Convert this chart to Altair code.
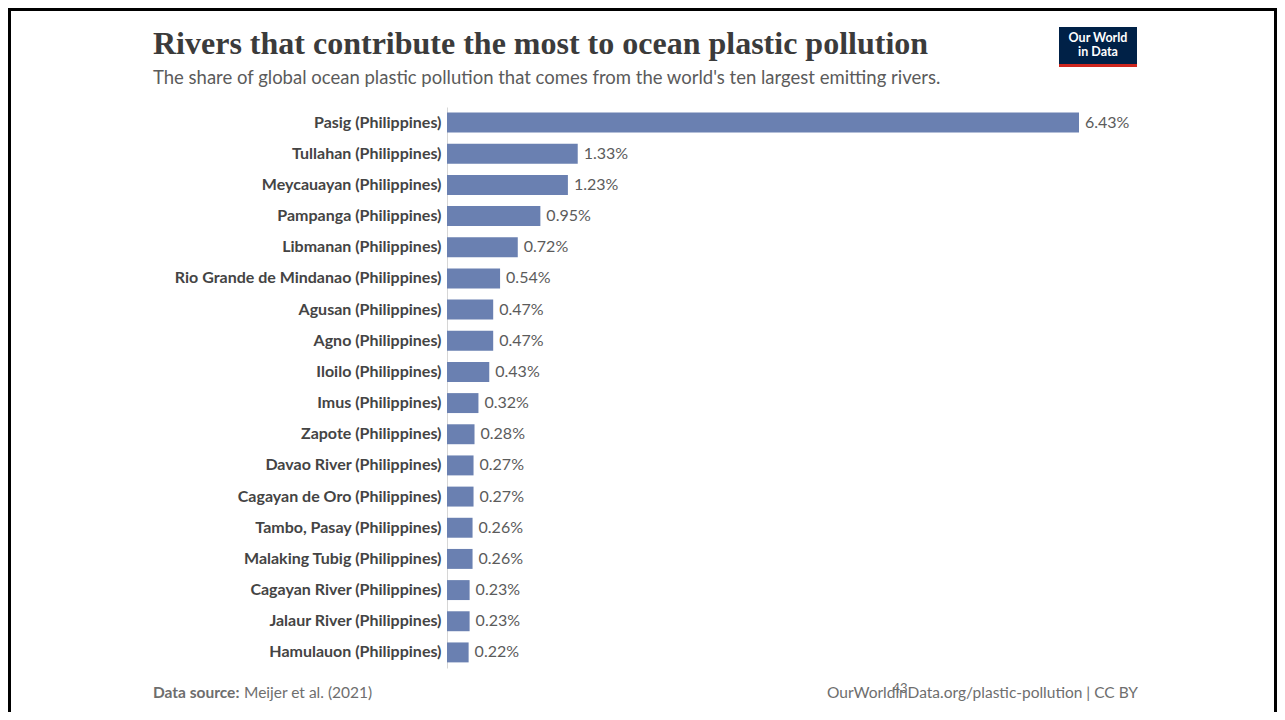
import altair as alt
import pandas as pd

rivers = [
    "Pasig (Philippines)", "Tullahan (Philippines)", "Meycauayan (Philippines)",
    "Pampanga (Philippines)", "Libmanan (Philippines)",
    "Rio Grande de Mindanao (Philippines)", "Agusan (Philippines)",
    "Agno (Philippines)", "Iloilo (Philippines)", "Imus (Philippines)",
    "Zapote (Philippines)", "Davao River (Philippines)",
    "Cagayan de Oro (Philippines)", "Tambo, Pasay (Philippines)",
    "Malaking Tubig (Philippines)", "Cagayan River (Philippines)",
    "Jalaur River (Philippines)", "Hamulauon (Philippines)",
]
shares = [6.43, 1.33, 1.23, 0.95, 0.72, 0.54, 0.47, 0.47, 0.43, 0.32,
          0.28, 0.27, 0.27, 0.26, 0.26, 0.23, 0.23, 0.22]

title_text = "Rivers that contribute the most to ocean plastic pollution"
subtitle_text = "The share of global ocean plastic pollution that comes from the world's ten largest emitting rivers."
source_label = "Data source:"
source_text = "Meijer et al. (2021)"
credit_text = "OurWorldinData.org/plastic-pollution | CC BY"
page_number = "43"

df = pd.DataFrame({"river": rivers, "share": shares,
                   "label": [f"{v:.2f}%" for v in shares]})

W, H = 693, 561
PAD_L, PAD_T = 439, 99
TOTAL_W, TOTAL_H = 1269, 704

x_scale = alt.Scale(domain=[0, 6.43 * W / 632], nice=False, zero=True)
y_enc = alt.Y("river:N", sort=None,
              scale=alt.Scale(paddingInner=0.36, paddingOuter=0.18),
              axis=alt.Axis(title=None, ticks=False, labelFont="Lato",
                            labelFontSize=16, labelFontWeight="bold",
                            labelColor="#444444", labelPadding=6,
                            labelLimit=420,
                            domainColor="#d6d6d6", domainWidth=1, grid=False))

base = alt.Chart(df)
bars = base.mark_bar(color="#6a80b1").encode(
    x=alt.X("share:Q", scale=x_scale, axis=None),
    y=y_enc,
)
values = base.mark_text(align="left", baseline="middle", dx=6, font="Lato",
                        fontSize=16, color="#5b5b5b").encode(
    x=alt.X("share:Q", scale=x_scale),
    y=alt.Y("river:N", sort=None),
    text="label:N",
)


def txt(t, x, y, **kw):
    return alt.Chart(pd.DataFrame({"t": [t]})).mark_text(**kw).encode(
        x=alt.value(x), y=alt.value(y), text="t:N")


title = txt(title_text, -294, -53, align="left", baseline="alphabetic",
            font="Liberation Serif", fontSize=32, fontWeight="bold",
            color="#3b3b3b")
subtitle = txt(subtitle_text, -294, -23, align="left", baseline="alphabetic",
               font="Lato", fontSize=18.5, color="#5b5b5b")
src1 = txt(source_label, -294, 591, align="left", baseline="alphabetic",
           font="Lato", fontSize=15.5, fontWeight="bold", color="#6e6e6e")
src2 = txt(source_text, -203, 591, align="left", baseline="alphabetic",
           font="Lato", fontSize=15.5, color="#6e6e6e")
credit = txt(credit_text, 691, 591, align="right", baseline="alphabetic",
             font="Lato", fontSize=15.5, color="#6e6e6e")
pnum = txt(page_number, 453, 586, align="center", baseline="alphabetic",
           font="Lato", fontSize=13, color="#6e6e6e")

logo_df = pd.DataFrame({"a": [0]})
logo_box = alt.Chart(logo_df).mark_rect(color="#002147").encode(
    x=alt.value(612), x2=alt.value(690), y=alt.value(-80), y2=alt.value(-40))
logo_red = alt.Chart(logo_df).mark_rect(color="#ce261e").encode(
    x=alt.value(612), x2=alt.value(690), y=alt.value(-43), y2=alt.value(-40))
logo_t1 = txt("Our World", 651, -65, align="center", baseline="alphabetic",
              font="Lato", fontSize=12.5, fontWeight="bold", color="white")
logo_t2 = txt("in Data", 651, -51, align="center", baseline="alphabetic",
              font="Lato", fontSize=12.5, fontWeight="bold", color="white")

# slide frame
L, R = -PAD_L + 1.5, TOTAL_W - PAD_L - 1.5
T, B = -PAD_T + 1.5, TOTAL_H - PAD_T
frame_top = alt.Chart(logo_df).mark_rule(color="black", strokeWidth=3).encode(
    x=alt.value(L - 1.5), x2=alt.value(R + 1.5), y=alt.value(T), y2=alt.value(T))
frame_left = alt.Chart(logo_df).mark_rule(color="black", strokeWidth=3).encode(
    x=alt.value(L), x2=alt.value(L), y=alt.value(T), y2=alt.value(B))
frame_right = alt.Chart(logo_df).mark_rule(color="black", strokeWidth=3).encode(
    x=alt.value(R), x2=alt.value(R), y=alt.value(T), y2=alt.value(B))

chart = alt.layer(bars, values, title, subtitle, src1, src2, credit, pnum,
                  logo_box, logo_red, logo_t1, logo_t2,
                  frame_top, frame_left, frame_right).properties(
    width=W, height=H,
    autosize=alt.AutoSizeParams(type="none"),
    padding={"left": PAD_L, "top": PAD_T,
             "right": TOTAL_W - PAD_L - W, "bottom": TOTAL_H - PAD_T - H},
    background="white",
).configure_view(stroke=None)

chart.save("out.html", embed_options={"renderer": "svg", "actions": False})
